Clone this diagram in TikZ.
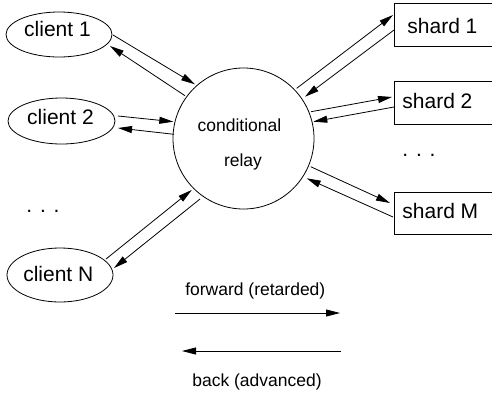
\documentclass[tikz,border=0pt]{standalone}
\usepackage{fontspec}
\setmainfont{Liberation Sans}
\usetikzlibrary{arrows.meta,shapes.geometric}
\begin{document}
\begin{tikzpicture}[x=1pt,y=-1pt, line width=0.8pt,
  big/.style={font=\fontsize{21}{25}\selectfont, inner sep=0pt},
  small/.style={font=\fontsize{17.5}{21}\selectfont, inner sep=0pt},
  cli/.style={draw, ellipse, inner sep=0pt},
  shardbox/.style={draw, rectangle, inner sep=0pt, anchor=north west, minimum width=110pt},
  arr/.style={-{Triangle[length=14pt,width=7pt]}}]
\useasboundingbox (0,0) rectangle (492,394);
\clip (0,0) rectangle (492,394);
% clients
\node[cli, minimum width=106pt, minimum height=45pt] (c1) at (59,34.5) {};
\node[cli, minimum width=107pt, minimum height=46pt] (c2) at (61.5,121) {};
\node[cli, minimum width=106pt, minimum height=54pt] (cN) at (60,275) {};
\node[big, anchor=base] (c1t) at (57.5,36.5) {client 1};
\node[big, anchor=base] (c2t) at (60.5,124) {client 2};
\node[big, anchor=base] (cNt) at (58.3,281.7) {client N};
\node[big, anchor=base] (cdots) at (43,212.5) {. . .};
% relay
\node[draw, circle, minimum size=141pt, inner sep=0pt] (relay) at (243.5,138.5) {};
\node[small, anchor=base] (rt1) at (239.5,131.5) {conditional};
\node[small, anchor=base] (rt2) at (243,166.5) {relay};
% shards
\node[shardbox, minimum height=43pt] (s1) at (394,3) {};
\node[shardbox, minimum height=43pt] (s2) at (394,81) {};
\node[shardbox, minimum height=42pt] (sM) at (394,192) {};
\node[big, anchor=base west] (s1t) at (407,33) {shard 1};
\node[big, anchor=base west] (s2t) at (402,108) {shard 2};
\node[big, anchor=base west] (sMt) at (402,218) {shard M};
\node[big, anchor=base] (sdots) at (419,156.5) {. . .};
% connector end points
\coordinate (c1a) at (113,35);   \coordinate (r1a) at (195,84.3);
\coordinate (r1b) at (185,95.7); \coordinate (c1b) at (110,46);
\coordinate (c2a) at (118,116);  \coordinate (r2a) at (173.3,121.7);
\coordinate (r2b) at (174,134.3); \coordinate (c2b) at (118,128);
\coordinate (cNa) at (106,259);  \coordinate (rNa) at (191.7,190);
\coordinate (rNb) at (200,199);  \coordinate (cNb) at (114,268);
\coordinate (q1a) at (296.7,88.3); \coordinate (s1a) at (393,15);
\coordinate (s1b) at (394,30);   \coordinate (q1b) at (305,96.7);
\coordinate (q2a) at (311,111.7); \coordinate (s2a) at (392,97);
\coordinate (s2b) at (394,107);  \coordinate (q2b) at (313.3,121.7);
\coordinate (qMa) at (310.7,166.7); \coordinate (sMa) at (390,203);
\coordinate (sMb) at (393,217);  \coordinate (qMb) at (306.7,178.3);
\draw[arr] (c1a) -- (r1a);
\draw[arr] (r1b) -- (c1b);
\draw[arr] (c2a) -- (r2a);
\draw[arr] (r2b) -- (c2b);
\draw[arr] (cNa) -- (rNa);
\draw[arr] (rNb) -- (cNb);
\draw[arr] (q1a) -- (s1a);
\draw[arr] (s1b) -- (q1b);
\draw[arr] (q2a) -- (s2a);
\draw[arr] (s2b) -- (q2b);
\draw[arr] (qMa) -- (sMa);
\draw[arr] (sMb) -- (qMb);
% legend
\node[small, anchor=base] (lf) at (255.3,295) {forward (retarded)};
\node[small, anchor=base] (lb) at (257,386) {back (advanced)};
\coordinate (fs) at (175,313); \coordinate (fe) at (340,313);
\coordinate (bs) at (341,351); \coordinate (be) at (182,351);
\draw[arr] (fs) -- (fe);
\draw[arr] (bs) -- (be);
\end{tikzpicture}
\end{document}
